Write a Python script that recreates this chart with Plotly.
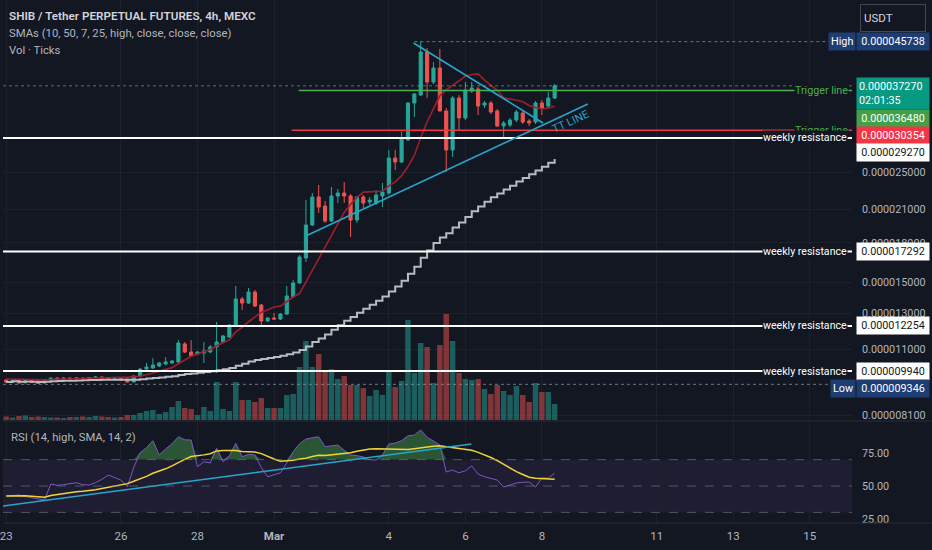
import math
import pandas as pd
import plotly.graph_objects as go

# ---------------- data (prices in units of 1e-9 USDT) ----------------
start_time = "2024-02-23 00:00"
open_e9 = [9536, 9448, 9514, 9426, 9514, 9492, 9404, 9514, 9624, 9558,
           9624, 9580, 9624, 9580, 9646, 9669, 9602, 9558, 9602, 9580,
           9448, 9714, 10035, 10081, 10175, 10270, 10318, 10366, 11268, 10857,
           10757, 10807, 10857, 11112, 11372, 11639, 12247, 13879, 13624, 14337,
           13499, 12534, 12710, 12651, 12947, 14008, 14948, 16784, 19556, 22267,
           21357, 19921, 22370, 22683, 22370, 20014, 22267, 21756, 21656, 22370,
           22683, 26677, 26187, 28996, 34419, 35720, 43595, 37937, 40480, 33167,
           27683, 35227, 32108, 36388, 36726, 34102, 34419, 33167, 30939, 31083,
           31812, 32861, 31665, 31518, 34419, 33944, 35227]
high_e9 = [9580, 9558, 9536, 9536, 9536, 9514, 9536, 9646, 9646, 9669,
           9646, 9669, 9646, 9669, 9714, 9691, 9624, 9624, 9624, 9602,
           9736, 10081, 10318, 10559, 10366, 10608, 10462, 11478, 11372, 11478,
           10907, 11372, 11215, 12476, 11747, 12361, 14742, 14008, 14606, 14470,
           13562, 12769, 13007, 13007, 14742, 15157, 17019, 21958, 22683, 23539,
           21857, 23322, 23107, 23868, 22578, 22370, 22474, 22267, 23000, 23758,
           27683, 27683, 30092, 34579, 36052, 45738, 44413, 41621, 44207, 33631,
           35555, 35720, 37937, 37937, 37068, 34740, 34740, 33476, 31665, 32108,
           33321, 33167, 31960, 34740, 34901, 36220, 37587]
low_e9 = [9404, 9404, 9382, 9346, 9404, 9361, 9382, 9492, 9536, 9536,
          9558, 9558, 9536, 9558, 9602, 9580, 9536, 9536, 9514, 9426,
          9426, 9646, 9988, 10035, 10128, 10222, 10270, 10318, 10807, 10608,
          10707, 10318, 10807, 9850, 11320, 11585, 12190, 13189, 13562, 13375,
          12190, 12476, 12592, 12592, 12887, 13944, 14879, 16475, 19465, 20675,
          19738, 19829, 21656, 21656, 18498, 19738, 21160, 21456, 21456, 21258,
          22474, 25233, 26066, 28862, 32257, 35555, 35227, 37587, 40106, 25000,
          26801, 30372, 31812, 36052, 32558, 33631, 32709, 30796, 29403, 30796,
          31518, 31228, 30939, 31228, 32558, 33631, 35064]
close_e9 = [9448, 9514, 9404, 9514, 9426, 9382, 9514, 9624, 9558, 9624,
            9580, 9624, 9580, 9646, 9669, 9602, 9558, 9602, 9536, 9448,
            9714, 10035, 10128, 10222, 10318, 10366, 10414, 11320, 10857, 10658,
            10857, 10907, 11112, 11372, 11693, 12304, 13879, 13624, 14337, 13437,
            12534, 12710, 12651, 12947, 14073, 14948, 16862, 19556, 22267, 21258,
            19921, 22370, 22683, 22370, 20014, 22267, 21656, 21958, 22474, 22788,
            26677, 26187, 29267, 34419, 35886, 43595, 37937, 40480, 33167, 27683,
            35227, 32108, 36557, 36897, 33944, 34419, 33013, 30939, 31373, 31812,
            33013, 31518, 31373, 34419, 33631, 35227, 37270]
volume_ticks = [35, 25, 40, 45, 30, 35, 30, 25, 25, 20,
                30, 30, 35, 30, 40, 35, 30, 25, 30, 50,
                50, 70, 90, 100, 60, 80, 130, 190, 120, 110,
                50, 130, 90, 380, 110, 90, 380, 200, 200, 180,
                220, 120, 120, 120, 250, 260, 530, 790, 530, 660,
                490, 510, 410, 440, 350, 350, 320, 240, 300, 250,
                490, 330, 390, 1000, 470, 770, 730, 370, 750, 1060,
                790, 470, 410, 400, 410, 310, 260, 350, 290, 250,
                340, 250, 180, 370, 280, 280, 160]
rsi_values = [42.4, 42.8, 43.2, 42.0, 41.0, 40.0, 39.4, 51.5, 50.5, 51.0,
              52.0, 52.5, 51.0, 50.8, 52.5, 55.0, 58.3, 56.5, 54.5, 49.5,
              64.0, 75.2, 79.0, 84.3, 73.5, 78.0, 82.0, 87.3, 85.0, 84.8,
              64.6, 68.4, 67.4, 78.6, 68.4, 73.0, 82.3, 72.2, 74.0, 73.5,
              64.0, 57.0, 58.3, 60.0, 67.4, 76.0, 82.0, 85.6, 86.5, 87.3,
              79.8, 80.5, 81.0, 77.0, 73.5, 73.0, 72.0, 70.0, 69.7, 73.5,
              81.8, 82.5, 84.3, 88.0, 88.6, 92.4, 87.0, 84.0, 81.0, 60.6,
              62.1, 60.0, 61.5, 65.2, 59.0, 57.0, 55.5, 54.5, 49.2, 51.0,
              52.3, 52.8, 53.0, 49.2, 56.0, 56.0, 59.8]

# drawings / levels
weekly_levels_e9 = [29270, 17292, 12254, 9940]
trigger_green_e9 = 36480
trigger_red_e9 = 30354
high_e9_mark = 45738
low_e9_mark = 9346
last_e9 = 37270
tt_line = (["2024-03-01 21:15", "2024-03-09 04:50"], [18670, 34260])
down_line = (["2024-03-04 15:30", "2024-03-08 00:45"], [45453, 31373])
rsi_trend = (["2024-02-22 22:00", "2024-03-06 03:45"], [34.85, 81.8])
price_tick_e9 = [8100, 11000, 13000, 15000, 18000, 21000, 25000]
date_ticks = ["2024-02-23", "2024-02-26", "2024-02-28", "2024-03-01", "2024-03-04",
              "2024-03-06", "2024-03-08", "2024-03-11", "2024-03-13", "2024-03-15"]
date_labels = ["23", "26", "28", "<b>Mar</b>", "4", "6", "8", "11", "13", "15"]

S = 1e-9
x_start, x_end = "2024-02-22 22:00", "2024-03-16 02:30"

dates = pd.date_range(start_time, periods=len(open_e9), freq="4h")
o = [v * S for v in open_e9]
h = [v * S for v in high_e9]
l = [v * S for v in low_e9]
c = [v * S for v in close_e9]
sma_high10 = pd.Series(h).rolling(10, min_periods=1).mean()
sma_close50 = pd.Series(c).rolling(50, min_periods=1).mean()
rsi_ma = pd.Series(rsi_values).rolling(14, min_periods=1).mean()

BG = "#131722"
GRID = "#1d212c"
UP = "#26a69a"
DN = "#ef5350"
CYAN = "#27a6cc"
TXT = "#b2b5be"
FONT = "Roboto"
AX_FS = 10.8

fig = go.Figure()

# volume (base axis y)
vol_colors = ["rgba(38,166,154,0.5)" if cc >= oo else "rgba(239,83,80,0.5)" for oo, cc in zip(o, c)]
fig.add_trace(go.Bar(x=dates, y=volume_ticks, marker=dict(color=vol_colors, line=dict(width=0)),
                     width=4 * 3600 * 1000 * 0.86, xaxis="x", yaxis="y", hoverinfo="skip"))

# SMAs
fig.add_trace(go.Scatter(x=dates, y=sma_close50, mode="lines", line=dict(color="#b8bbc2", width=2, shape="hv"),
                         xaxis="x", yaxis="y2"))
fig.add_trace(go.Scatter(x=dates, y=sma_high10, mode="lines", line=dict(color="#9c1f2e", width=1.6),
                         xaxis="x", yaxis="y2"))

# candles
fig.add_trace(go.Candlestick(x=dates, open=o, high=h, low=l, close=c, xaxis="x", yaxis="y2",
                             increasing=dict(line=dict(color=UP, width=1), fillcolor=UP),
                             decreasing=dict(line=dict(color=DN, width=1), fillcolor=DN),
                             whiskerwidth=0))

def hline(x0, x1, price_e9, color, width, dash="solid"):
    fig.add_trace(go.Scatter(x=[x0, x1], y=[price_e9 * S, price_e9 * S], mode="lines",
                             line=dict(color=color, width=width, dash=dash), xaxis="x", yaxis="y2",
                             hoverinfo="skip"))

hline(x_start, x_end, last_e9, "rgba(120,200,185,0.55)", 1, "dot")
hline("2024-03-04 16:00", x_end, high_e9_mark, "rgba(150,155,170,0.7)", 1, "dot")
hline(x_start, x_end, low_e9_mark, "rgba(150,155,170,0.7)", 1, "dot")
for lv in weekly_levels_e9:
    hline(x_start, x_end, lv, "#ffffff", 2)
hline("2024-03-01 15:30", x_end, trigger_green_e9, "#4caf50", 1.5)
hline("2024-03-01 11:00", x_end, trigger_red_e9, "#f23645", 1.5)

# trendlines
for xs, ys in (tt_line, down_line):
    fig.add_trace(go.Scatter(x=xs, y=[v * S for v in ys], mode="lines", line=dict(color=CYAN, width=1.6),
                             xaxis="x", yaxis="y2"))

# RSI pane
fig.add_trace(go.Scatter(x=dates, y=[70] * len(dates), mode="lines", line=dict(width=0),
                         xaxis="x", yaxis="y3", hoverinfo="skip"))
fig.add_trace(go.Scatter(x=dates, y=[max(v, 70) for v in rsi_values], mode="lines", line=dict(width=0),
                         fill="tonexty", fillcolor="rgba(76,175,80,0.42)", xaxis="x", yaxis="y3"))
fig.add_trace(go.Scatter(x=dates, y=rsi_values, mode="lines", line=dict(color="#7e57c2", width=1),
                         xaxis="x", yaxis="y3"))
fig.add_trace(go.Scatter(x=dates, y=rsi_ma, mode="lines", line=dict(color="#f0d43a", width=1.5),
                         xaxis="x", yaxis="y3"))
fig.add_trace(go.Scatter(x=rsi_trend[0], y=rsi_trend[1], mode="lines", line=dict(color=CYAN, width=1.6),
                         xaxis="x", yaxis="y3"))

PLOT_H = 523
def py(pix):
    return 1 - pix / PLOT_H

price_bottom = py(420)
rsi_top = py(422)

shapes = [
    dict(type="rect", xref="paper", yref="y3", x0=0, x1=1, y0=30, y1=70,
         fillcolor="rgba(126,87,194,0.10)", line=dict(width=0), layer="below"),
]
for lv in (70, 50, 30):
    shapes.append(dict(type="line", xref="paper", yref="y3", x0=0, x1=1, y0=lv, y1=lv,
                       line=dict(color="rgba(120,123,134,0.6)", width=1, dash="dash")))
shapes.append(dict(type="line", xref="paper", yref="paper", x0=0, x1=932 / 852, y0=py(421), y1=py(421),
                   line=dict(color="#2a2e39", width=1)))
shapes.append(dict(type="line", xref="paper", yref="paper", x0=0, x1=932 / 852, y0=0, y1=0,
                   line=dict(color="#2a2e39", width=1)))

ann = []
def lg(v_e9):
    return math.log10(v_e9 * S)

# header texts
ann.append(dict(xref="paper", yref="paper", x=0, y=py(16), xshift=4, xanchor="left", yanchor="middle",
                text="SHIB / Tether PERPETUAL FUTURES, 4h, MEXC", showarrow=False,
                font=dict(family=FONT, size=11.7, color="#d1d4dc", weight=600)))
ann.append(dict(xref="paper", yref="paper", x=0, y=py(34), xshift=4, xanchor="left", yanchor="middle",
                text="SMAs (10, 50, 7, 25, high, close, close, close)", showarrow=False,
                font=dict(family=FONT, size=11.3, color=TXT)))
ann.append(dict(xref="paper", yref="paper", x=0, y=py(50), xshift=4, xanchor="left", yanchor="middle",
                text="Vol · Ticks", showarrow=False, font=dict(family=FONT, size=11.3, color=TXT)))
ann.append(dict(xref="paper", yref="paper", x=0, y=py(437), xshift=6, xanchor="left", yanchor="middle",
                text="RSI (14, high, SMA, 14, 2)", showarrow=False, font=dict(family=FONT, size=11.3, color=TXT)))
ann.append(dict(xref="paper", yref="paper", x=893 / 852, y=py(18), xanchor="center", yanchor="middle",
                text="USDT", showarrow=False, align="left", width=58, height=20, borderpad=3,
                bordercolor="#434651", borderwidth=1, bgcolor=BG, font=dict(family=FONT, size=11.5, color="#d1d4dc")))

# TT LINE label
ann.append(dict(xref="x", yref="y2", x="2024-03-08 18:15", y=lg(31665), text="TT LINE", showarrow=False,
                textangle=-25, font=dict(family=FONT, size=11, color=CYAN)))

# line labels
for lv in weekly_levels_e9:
    ann.append(dict(xref="paper", yref="y2", x=1, y=lg(lv), xshift=-4, xanchor="right", yanchor="middle",
                    text="weekly resistance", showarrow=False, bgcolor=BG, borderpad=0,
                    font=dict(family=FONT, size=10.6, color="#ffffff")))
for lv in (trigger_green_e9, trigger_red_e9):
    ann.insert(0, dict(xref="paper", yref="y2", x=1, y=lg(lv), xshift=-3, xanchor="right", yanchor="middle",
                       text="Trigger line", showarrow=False, bgcolor=BG, borderpad=0,
                       font=dict(family=FONT, size=10.7, color="#4caf50")))

# price-axis boxes
def pbox(v_e9, bg, fg, yshift=0, text=None, yanchor="middle"):
    ann.append(dict(xref="paper", yref="y2", x=1, y=lg(v_e9), xshift=4, yshift=yshift, xanchor="left",
                    yanchor=yanchor, text=text or "0.%09d" % v_e9, showarrow=False, align="center",
                    width=68, borderpad=2, bgcolor=bg, font=dict(family=FONT, size=AX_FS, color=fg)))

NAVY = "#1e3d73"
pbox(high_e9_mark, NAVY, "#ffffff")
ann.append(dict(xref="paper", yref="y2", x=1, y=lg(high_e9_mark), xshift=4, xanchor="right", yanchor="middle",
                text="High", showarrow=False, borderpad=2, bgcolor=NAVY, font=dict(family=FONT, size=AX_FS, color="#ffffff")))
ann.append(dict(xref="paper", yref="y2", x=1, y=lg(last_e9), xshift=4, yshift=9, xanchor="left",
                yanchor="top", text="0.%09d<br>02:01:35" % last_e9, showarrow=False, align="left",
                width=68, borderpad=2, bgcolor="#089981", font=dict(family=FONT, size=AX_FS, color="#ffffff")))
pbox(trigger_green_e9, "#43a047", "#ffffff", yshift=-28)
pbox(trigger_red_e9, "#f23645", "#ffffff", yshift=-5.5)
pbox(weekly_levels_e9[0], "#ffffff", BG, yshift=-14.5)
for lv in weekly_levels_e9[1:]:
    pbox(lv, "#ffffff", BG)
pbox(low_e9_mark, NAVY, "#ffffff", yshift=-4.5)
ann.append(dict(xref="paper", yref="y2", x=1, y=lg(low_e9_mark), xshift=4, yshift=-4.5, xanchor="right",
                yanchor="middle", text="Low", showarrow=False, borderpad=2, bgcolor=NAVY,
                font=dict(family=FONT, size=AX_FS, color="#ffffff")))

fig.update_layout(
    width=932, height=550, margin=dict(l=0, r=80, t=0, b=27),
    paper_bgcolor=BG, plot_bgcolor=BG, showlegend=False,
    font=dict(family=FONT, color=TXT),
    xaxis=dict(domain=[0, 1], anchor="y3", range=[x_start, x_end], rangeslider=dict(visible=False),
               tickvals=date_ticks, ticktext=date_labels, showgrid=True, gridcolor=GRID, gridwidth=1,
               zeroline=False, showline=False, ticks="", ticklabeloverflow="allow", ticklabelstandoff=4,
               tickfont=dict(family=FONT, size=11.5, color=TXT)),
    yaxis=dict(domain=[price_bottom, 1], range=[0, 4200], visible=False, showgrid=False),
    yaxis2=dict(overlaying="y", type="log", side="right", anchor="x",
                range=[math.log10(7922.6 * S), math.log10(55475 * S)],
                tickvals=[v * S for v in price_tick_e9], ticktext=["0.%09d" % v for v in price_tick_e9],
                showgrid=True, gridcolor=GRID, zeroline=False, showline=False, ticks="",
                ticklabelstandoff=9, tickfont=dict(family=FONT, size=AX_FS, color=TXT)),
    yaxis3=dict(domain=[0, rsi_top], range=[21.97, 98.48], side="right", anchor="x",
                tickvals=[25, 50, 75], ticktext=["25.00", "50.00", "75.00"], showgrid=False,
                zeroline=False, showline=False, ticks="", ticklabelstandoff=9,
                tickfont=dict(family=FONT, size=AX_FS, color=TXT)),
    shapes=shapes, annotations=ann,
)

fig.write_html("out.html", config={"displayModeBar": False},
               post_script="document.body.style.margin='0';document.body.style.background='#131722';")
